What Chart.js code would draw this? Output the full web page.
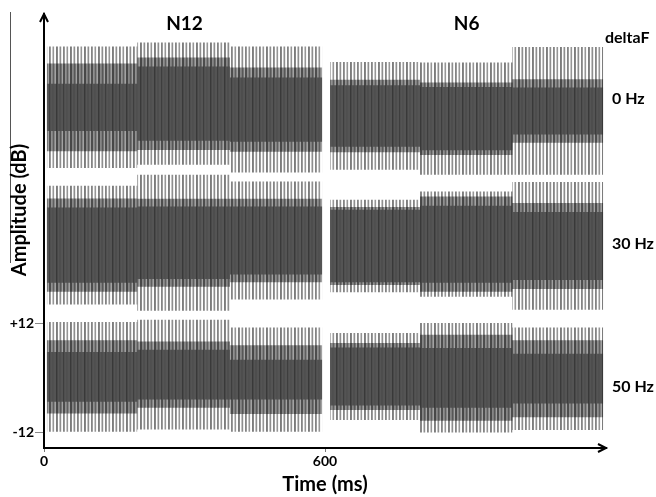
<!DOCTYPE html>
<html>
<head>
<meta charset="utf-8">
<title>N12 / N6 waveforms</title>
<script src="https://cdn.jsdelivr.net/npm/chart.js@4.4.1/dist/chart.umd.min.js"></script>
<style>
  body { margin: 0; background: #fff; }
  #wrap { width: 656px; height: 497px; }
</style>
</head>
<body>
<div id="wrap"><canvas id="myChart" width="656" height="497"></canvas></div>
<script>
// time span of each tone block (ms): three blocks for N12, three for N6
var blockStart = [6, 199, 397, 611, 803, 1000]
var blockEnd = [199, 397, 594, 803, 1000, 1194]
var noiseNames = ['N12', 'N6']
var deltaNames = ['0 Hz', '30 Hz', '50 Hz']

// for every deltaF row: block level, then half height of the peaks,
// of the dense band and of the dark core (dB)
var level0 = [59.8, 60.6, 59.3, 57.9, 57.3, 59.0]
var peaks0 = [13.4, 13.5, 13.9, 11.9, 12.4, 14.1]
var band0 = [9.7, 10.2, 9.3, 8.0, 8.0, 7.0]
var core0 = [5.2, 8.2, 7.1, 6.8, 7.0, 5.2]

var level1 = [29.4, 29.9, 30.4, 29.2, 29.6, 29.2]
var peaks1 = [13.1, 15.0, 13.0, 10.2, 11.6, 14.1]
var band1 = [10.3, 9.7, 9.2, 8.6, 10.5, 9.5]
var core1 = [8.3, 8.0, 7.5, 8.0, 8.5, 7.5]

var level2 = [0.3, 0.8, -0.3, 0.4, 0.1, -0.1]
var peaks2 = [12.1, 12.1, 11.5, 9.6, 12.1, 11.3]
var band2 = [8.1, 7.3, 7.6, 7.4, 9.5, 8.5]
var core2 = [5.5, 5.5, 4.4, 6.4, 6.6, 5.5]

var rows = [
  { level: level0, peaks: peaks0, band: band0, core: core0 },
  { level: level1, peaks: peaks1, band: band1, core: core1 },
  { level: level2, peaks: peaks2, band: band2, core: core2 }
]

// vertical stripes, so the filled bands read like a dense waveform
function stripes(w, base, lines) {
  var c = document.createElement('canvas')
  c.width = w
  c.height = 4
  var g = c.getContext('2d')
  if (base) {
    g.fillStyle = base
    g.fillRect(0, 0, w, 4)
  }
  lines.forEach(function(l) {
    g.fillStyle = l[2]
    g.fillRect(l[0], 0, l[1], 4)
  })
  return g.createPattern(c, 'repeat')
}

var fills = {
  peaks: stripes(14, null, [[0, 1.9, '#7c7c7c'], [3.5, 1.7, '#8e8e8e'], [7, 1.8, '#848484'], [10.5, 1.6, '#969696']]),
  band: stripes(14, '#a2a2a2', [[0, 2.3, '#474747'], [3.5, 2.1, '#575757'], [7, 2.2, '#4d4d4d'], [10.5, 1.9, '#5e5e5e']]),
  core: stripes(14, '#545454', [[0, 1.4, '#393939'], [3.5, 1, '#474747'], [7, 1.2, '#3e3e3e'], [10.5, 0.8, '#4a4a4a']])
}

// outline of one layer for one noise condition, as steps over its blocks
function edge(row, key, sign, col) {
  var pts = []
  for (var i = col * 3; i < col * 3 + 3; i++) {
    var y = row.level[i] + sign * row[key][i]
    pts.push({ x: blockStart[i], y: y })
    pts.push({ x: blockEnd[i], y: y })
  }
  return pts
}

var datasets = []
// core first so it ends up on top
;['core', 'band', 'peaks'].forEach(function(key) {
  rows.forEach(function(row) {
    for (var col = 0; col < 2; col++) {
      datasets.push({
        data: edge(row, key, 1, col),
        fill: '+1',
        backgroundColor: fills[key],
        borderWidth: 0,
        pointRadius: 0
      })
      datasets.push({
        data: edge(row, key, -1, col),
        fill: false,
        borderWidth: 0,
        pointRadius: 0
      })
    }
  })
})

var decor = {
  id: 'decor',
  afterDraw: function(chart) {
    var ctx = chart.ctx
    var a = chart.chartArea
    var xs = chart.scales.x
    ctx.save()
    ctx.strokeStyle = '#000'
    ctx.lineWidth = 2
    ctx.beginPath()
    ctx.moveTo(a.left - 4, a.top + 8)
    ctx.lineTo(a.left, a.top)
    ctx.lineTo(a.left + 4, a.top + 8)
    ctx.moveTo(a.right - 8, a.bottom - 4)
    ctx.lineTo(a.right, a.bottom)
    ctx.lineTo(a.right - 8, a.bottom + 4)
    ctx.stroke()

    ctx.fillStyle = '#000'
    ctx.textBaseline = 'middle'
    ctx.textAlign = 'center'
    ctx.font = 'bold 19px Lato'
    noiseNames.forEach(function(n, c) {
      var mid = (blockStart[c * 3] + blockEnd[c * 3 + 2]) / 2
      ctx.fillText(n, xs.getPixelForValue(mid), 24)
    })

    ctx.textAlign = 'left'
    ctx.font = 'bold 16px Lato'
    ctx.fillText('deltaF', 605, 38)
    var rowY = [99, 244, 387]
    deltaNames.forEach(function(t, i) {
      ctx.fillText(t, 612, rowY[i])
    })

    ctx.strokeStyle = '#555'
    ctx.lineWidth = 1
    ctx.beginPath()
    ctx.moveTo(10.5, 12)
    ctx.lineTo(10.5, 263)
    ctx.stroke()

    ctx.translate(20, 210)
    ctx.rotate(-Math.PI / 2)
    ctx.textAlign = 'center'
    ctx.font = 'bold 20px Lato'
    ctx.fillText('Amplitude (dB)', 0, 0)
    ctx.restore()
  }
}

var tickFont = { family: 'Lato', weight: 'bold', size: 14 }

var chart = new Chart('myChart', {
  type: 'line',
  data: { datasets: datasets },
  plugins: [decor],
  options: {
    responsive: false,
    animation: false,
    layout: { padding: { top: 14, right: 50, left: 0, bottom: 0 } },
    plugins: { legend: { display: false }, tooltip: { enabled: false } },
    elements: { line: { tension: 0 } },
    scales: {
      x: {
        type: 'linear',
        min: 0,
        max: 1200,
        afterBuildTicks: function(s) { s.ticks = [{ value: 0 }, { value: 600 }] },
        afterFit: function(s) { s.height = 49 },
        border: { color: '#000', width: 2 },
        grid: { drawOnChartArea: false, tickLength: 4, tickColor: '#777' },
        ticks: { font: tickFont, color: '#000', padding: 1, maxRotation: 0 },
        title: {
          display: true,
          text: 'Time (ms)',
          color: '#000',
          font: { family: 'Lato', weight: 'bold', size: 20 },
          padding: { top: 0, bottom: 0 }
        }
      },
      y: {
        type: 'linear',
        min: -15.4,
        max: 80.4,
        afterBuildTicks: function(s) { s.ticks = [{ value: -12 }, { value: 12 }] },
        afterFit: function(s) { s.width = 44 },
        border: { color: '#000', width: 2 },
        grid: { drawOnChartArea: false, tickLength: 9, tickColor: '#888' },
        ticks: {
          font: tickFont,
          color: '#000',
          padding: 1,
          callback: function(v) { return v > 0 ? '+' + v : '' + v }
        }
      }
    }
  }
})
</script>
</body>
</html>
